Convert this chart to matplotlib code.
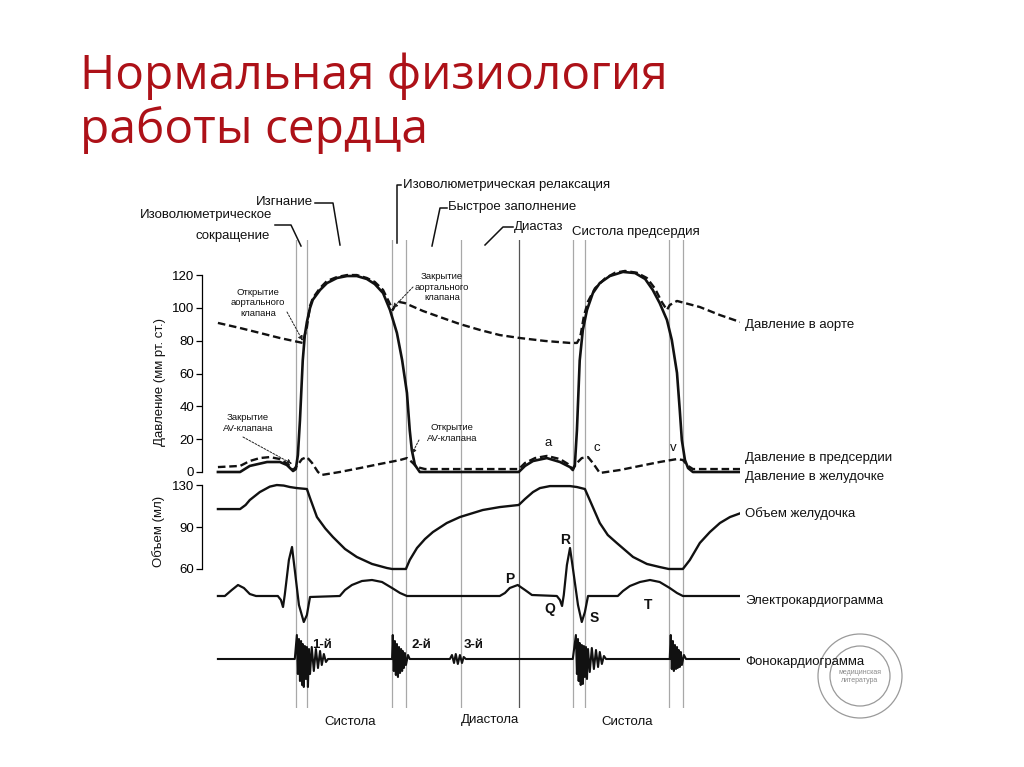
import numpy as np
import matplotlib.pyplot as plt
from matplotlib.lines import Line2D
from matplotlib.patches import Circle
from matplotlib.transforms import IdentityTransform

plt.rcParams['font.family'] = ['Liberation Sans', 'DejaVu Sans']

W, H = 1024, 767

# время, мс (один цикл = 800 мс)
event_t = [225, 257, 503, 543, 702, 869, 1025, 1060, 1302, 1343]

# давление в желудочке, мм рт. ст.
vent_t = [0, 64, 92, 142, 179, 199, 217, 225, 231, 237, 245, 251, 257, 266, 274, 295, 315, 344, 373, 401,
          430, 453, 477, 497, 517, 532, 546, 554, 560, 569, 583, 869, 887, 910, 950, 988, 1017, 1025, 1031, 1037,
          1045, 1054, 1066, 1083, 1103, 1132, 1170, 1205, 1234, 1256, 1276, 1297, 1311, 1326, 1334, 1340, 1349,
          1358, 1372, 1508]
vent_p = [0, 0, 3.7, 6.1, 6.1, 4.3, 0.6, 1.8, 10.4, 31.7, 68, 83.5, 91.5, 100, 105, 111, 115.2, 118.3, 119.5, 119.5,
          117.7, 114.6, 109.1, 98.8, 84.8, 68.3, 48.2, 25.6, 13.4, 4.3, 0, 0, 3.7, 6.7, 8.5, 6.1, 3, 1.2, 4.3, 25.6,
          68, 86.6, 98.8, 109.1, 115.2, 119.5, 122, 121.3, 117.7, 111, 103, 92.7, 80.5, 60.4, 37.8, 19.5, 7.3,
          2.4, 0, 0]

# давление в аорте
aorta_t = [0, 64, 121, 179, 245, 257, 266, 274, 295, 315, 344, 373, 401, 430, 453, 477, 494, 505, 511, 523,
           540, 592, 641, 699, 757, 814, 872, 945, 1017, 1037, 1042, 1048, 1057, 1069, 1089, 1118, 1147, 1176, 1210, 1239,
           1262, 1282, 1297, 1305, 1326, 1349, 1392, 1450, 1508]
aorta_p = [90.9, 87.8, 84.8, 81.7, 78.7, 88.4, 101.2, 106, 112.2, 116.5, 118.9, 120.1, 120.1, 118.3, 115.9, 111, 103.7, 98.8, 101.2, 103.7,
           103, 98.2, 94.5, 90.2, 86.6, 83.5, 81.7, 79.9, 78.7, 78.7, 80.5, 84, 95, 104, 112, 118, 121.5, 122.6, 121.5, 118.3,
           112, 103.7, 98.8, 101.8, 104.3, 103, 100.6, 95.7, 91.5]

# давление в предсердии
atrium_t = [0, 64, 92, 121, 150, 179, 202, 217, 228, 243, 257, 272, 289, 300, 352, 410, 468, 526, 546, 560,
            575, 598, 869, 887, 916, 950, 988, 1011, 1025, 1037, 1051, 1069, 1083, 1103, 1161, 1219, 1276, 1326, 1343, 1358,
            1372, 1508]
atrium_p = [3, 3.7, 6.7, 8.5, 9.1, 7.9, 4.9, 1.2, 3.7, 7.9, 9.1, 5.5, 0, -1.8, 0, 2.4, 4.9, 7.3, 8.5, 6.1,
            3, 1.8, 1.8, 5.5, 8.5, 9.8, 7.9, 4.9, 1.8, 5.5, 8.5, 9.1, 5.5, -0.6, 1.2, 3.7, 6.1, 7.9, 7.3, 3.7,
            1.8, 1.8]

# объем желудочка, мл
vol_t = [0, 64, 80, 92, 121, 150, 170, 190, 208, 228, 257, 266, 286, 310, 332, 367, 401, 445, 488, 503,
         543, 554, 575, 598, 621, 661, 699, 765, 814, 869, 887, 910, 930, 959, 1017, 1037, 1060, 1074, 1103, 1126,
         1152, 1199, 1239, 1276, 1302, 1343, 1363, 1392, 1421, 1450, 1479, 1508]
vol_ml = [107.1, 107.1, 111, 115.7, 123.3, 128.5, 130, 129.5, 128.1, 127.1, 126.2, 117.6, 99.5, 89, 82.9, 74.3, 68.6, 63.6, 60.7, 60,
          60, 66.4, 75, 81.4, 86.4, 93.8, 99.5, 106.2, 109, 111, 116.7, 123.3, 127.1, 129, 129, 128.1, 126.2, 115.7, 93.8, 84.3,
          78.6, 68.6, 63.6, 61.4, 60, 60, 66.4, 78.6, 86.4, 93.8, 99.5, 103]

# ЭКГ, мВ
ecg_t = [0, 20, 40, 58, 75, 92, 110, 173, 182, 188, 193, 205, 214, 222, 234, 248, 257, 266, 352, 367,
         387, 416, 445, 474, 503, 526, 546, 814, 829, 843, 866, 887, 907, 979, 988, 994, 999, 1008, 1017, 1028,
         1040, 1051, 1060, 1069, 1155, 1170, 1190, 1219, 1248, 1276, 1305, 1326, 1343, 1508]
ecg_mv = [0, 0, 0.15, 0.275, 0.2, 0.05, 0, 0, -0.1, -0.275, 0.025, 0.9, 1.225, 0.65, -0.225, -0.65, -0.475, -0.025, 0, 0.15,
          0.275, 0.375, 0.4, 0.35, 0.2, 0.075, 0, 0, 0.075, 0.2, 0.275, 0.15, 0.025, 0, -0.1, -0.25, 0.025, 0.775, 1.2, 0.525,
          -0.225, -0.65, -0.4, 0, 0, 0.125, 0.25, 0.35, 0.4, 0.35, 0.2, 0.075, 0, 0]

# фонокардиограмма (тоны 1, 2, 3, 1, 2)
phono_t = [0,
           222, 228, 231, 234, 237, 240, 243, 245, 248, 251, 254, 257, 260, 263, 266, 271, 277, 283, 289, 295, 300, 306, 312, 318,
           503, 505, 508, 511, 514, 517, 520, 523, 526, 529, 532, 534, 537, 540, 543, 549, 554,
           670, 676, 682, 687, 693, 699, 705, 710, 716,
           1025, 1034, 1037, 1040, 1042, 1045, 1048, 1051, 1054, 1057, 1060, 1063, 1066, 1069, 1074, 1080, 1086, 1092, 1098, 1103, 1109, 1115, 1121,
           1305, 1308, 1311, 1314, 1317, 1320, 1323, 1326, 1328, 1331, 1334, 1337, 1340, 1346, 1352,
           1508]
phono_a = [0,
           0, 2.4, -1.5, 2.0, -2.2, 1.8, -2.6, 1.5, -2.8, 1.3, -2.0, 1.2, -2.8, 1.0, -1.5, 1.2, -1.2, 1.0, -0.9, 0.8, -0.6, 0.5, -0.3, 0,
           0, 2.4, -1.2, 1.8, -1.6, 1.5, -1.8, 1.2, -1.4, 1.0, -1.2, 0.8, -0.9, 0.6, -0.6, 0.4, 0,
           0, 0.4, -0.4, 0.5, -0.5, 0.4, -0.4, 0.2, 0,
           0, 2.4, -1.5, 2.0, -2.2, 1.6, -2.6, 1.4, -2.5, 1.3, -1.8, 1.2, -2.0, 1.0, -1.3, 1.1, -1.0, 0.9, -0.8, 0.7, -0.5, 0.3, 0,
           0, 2.4, -1.0, 1.8, -1.2, 1.4, -1.0, 1.2, -0.9, 0.9, -0.8, 0.7, -0.6, 0.4, 0,
           0]

p_ticks = [0, 20, 40, 60, 80, 100, 120]
v_ticks = [60, 90, 130]

# шкала объема на рисунке неравномерная: 60, 90 и 130 стоят на равных расстояниях
v_scale_ml = [0, 60, 90, 130, 200]
v_scale_u = [-653, -569, -527, -485, -411.5]


def v_fwd(v):
    return np.interp(v, v_scale_ml, v_scale_u)


def v_inv(u):
    return np.interp(u, v_scale_u, v_scale_ml)


def box(x0, y0, x1, y1):
    return [x0 / W, 1 - y1 / H, (x1 - x0) / W, (y1 - y0) / H]


def fp(x, y):
    return x / W, 1 - y / H


def ftext(x, y, s, **kw):
    kw.setdefault('fontsize', 9.5)
    kw.setdefault('color', '#111111')
    fig.text(x / W, 1 - y / H, s, **kw)


def fline(xs, ys, **kw):
    fig.add_artist(Line2D([x / W for x in xs], [1 - y / H for y in ys],
                          color=kw.get('color', '#111111'), lw=kw.get('lw', 1.1)))


T0, T1 = -46, 1508
DASH = (0, (3.2, 1.6))

fig = plt.figure(figsize=(W / 100, H / 100), dpi=100)
fig.patch.set_facecolor('white')

# заголовок
ftext(80, 89, 'Нормальная физиология', fontsize=34.5, color='#ad1118', family=['Open Sans'], va='baseline')
ftext(80, 143, 'работы сердца', fontsize=34.5, color='#ad1118', family=['Open Sans'], va='baseline')

# вертикальные линии фаз
ax_v = fig.add_axes(box(202, 240, 740, 708))
ax_v.set_xlim(T0, T1)
ax_v.set_ylim(0, 1)
ax_v.axis('off')
for t in event_t:
    ax_v.axvline(t, color='#555555' if t == 869 else '#a8a8a8', lw=0.9)

# давление
ax_p = fig.add_axes(box(202, 267, 740, 480.2))
ax_p.patch.set_alpha(0)
ax_p.plot(aorta_t, aorta_p, color='#111111', lw=1.7, ls=DASH)
ax_p.plot(vent_t, vent_p, color='#111111', lw=1.9)
ax_p.plot(atrium_t, atrium_p, color='#111111', lw=1.7, ls=DASH)
ax_p.set_xlim(T0, T1)
ax_p.set_ylim(-5, 125)
for s in ['top', 'right', 'bottom']:
    ax_p.spines[s].set_visible(False)
ax_p.spines['left'].set_bounds(0, 120)
ax_p.spines['left'].set_linewidth(0.9)
ax_p.set_xticks([])
ax_p.set_yticks(p_ticks)
ax_p.tick_params(axis='y', length=4, width=0.9, pad=1.5, labelsize=9.5)

# объем
ax_vol = fig.add_axes(box(202, 480, 740, 575))
ax_vol.patch.set_alpha(0)
ax_vol.set_yscale('function', functions=(v_fwd, v_inv))
ax_vol.plot(vol_t, vol_ml, color='#111111', lw=1.7)
ax_vol.set_xlim(T0, T1)
ax_vol.set_ylim(55.7, 134.8)
for s in ['top', 'right', 'bottom']:
    ax_vol.spines[s].set_visible(False)
ax_vol.spines['left'].set_bounds(60, 130)
ax_vol.spines['left'].set_linewidth(0.9)
ax_vol.set_xticks([])
ax_vol.set_yticks(v_ticks)
ax_vol.set_yticks([], minor=True)
ax_vol.tick_params(axis='y', length=4, width=0.9, pad=1.5, labelsize=9.5)

# ЭКГ
ax_e = fig.add_axes(box(202, 530, 740, 630))
ax_e.patch.set_alpha(0)
ax_e.plot(ecg_t, ecg_mv, color='#111111', lw=1.6)
ax_e.set_xlim(T0, T1)
ax_e.set_ylim(-0.85, 1.65)
ax_e.axis('off')
for lab, t, v in [('P', 843, 0.42), ('R', 1002, 1.4), ('Q', 959, -0.32), ('S', 1086, -0.55), ('T', 1242, -0.22)]:
    ax_e.text(t, v, lab, ha='center', va='center', fontsize=10, fontweight='bold', color='#111111')

# ФКГ
ax_f = fig.add_axes(box(202, 625, 740, 695))
ax_f.patch.set_alpha(0)
ax_f.plot(phono_t, phono_a, color='#111111', lw=1.5)
ax_f.set_xlim(T0, T1)
ax_f.set_ylim(-3.6, 3.4)
ax_f.axis('off')
for lab, t in [('1-й', 300), ('2-й', 588), ('3-й', 738)]:
    ax_f.text(t, 1.4, lab, ha='center', va='center', fontsize=9.5, fontweight='bold', color='#111111')

# подписи осей
ftext(160, 382, 'Давление (мм рт. ст.)', rotation=90, ha='center', va='center')
ftext(159, 531, 'Объем (мл)', rotation=90, ha='center', va='center')

# подписи справа
for s, y in [('Давление в аорте', 325), ('Давление в предсердии', 458), ('Давление в желудочке', 477),
             ('Объем желудочка', 514), ('Электрокардиограмма', 601), ('Фонокардиограмма', 662)]:
    ftext(745, y, s, va='center')

# фазы сверху
ftext(272, 215, 'Изоволюметрическое', ha='right', va='center')
ftext(270, 236, 'сокращение', ha='right', va='center')
fline([275, 291, 301], [225, 225, 246])
ftext(313, 202, 'Изгнание', ha='right', va='center')
fline([315, 333, 340], [203, 203, 245])
ftext(403, 185, 'Изоволюметрическая релаксация', ha='left', va='center')
fline([401, 397, 397], [185, 185, 243])
ftext(448, 207, 'Быстрое заполнение', ha='left', va='center')
fline([447, 440, 432], [208, 208, 246])
ftext(514, 227, 'Диастаз', ha='left', va='center')
fline([513, 503, 485], [227, 227, 245])
ftext(572, 232, 'Систола предсердия', ha='left', va='center')

# клапаны
small = dict(fontsize=6.8, ha='center', va='center', linespacing=1.15)
ftext(258, 303, 'Открытие\nаортального\nклапана', **small)
ftext(442, 287, 'Закрытие\nаортального\nклапана', **small)
ftext(248, 423, 'Закрытие\nAV-клапана', **small)
ftext(452, 433, 'Открытие\nAV-клапана', **small)
arrow = dict(arrowstyle='-|>', lw=0.7, ls=(0, (2, 1.5)), color='#222222', mutation_scale=7, shrinkA=0, shrinkB=0)
ax_p.annotate('', xy=(245, 80), xytext=fp(287, 312), textcoords='figure fraction', arrowprops=arrow)
ax_p.annotate('', xy=(505, 100), xytext=fp(413, 287), textcoords='figure fraction', arrowprops=arrow)
ax_p.annotate('', xy=(214, 5), xytext=fp(243, 437), textcoords='figure fraction', arrowprops=arrow)
ax_p.annotate('', xy=(560, 11), xytext=fp(419, 440), textcoords='figure fraction', arrowprops=arrow)

for lab, t, p in [('a', 953, 17.7), ('c', 1095, 14.6), ('v', 1314, 14.6)]:
    ax_p.text(t, p, lab, ha='center', va='center', fontsize=9.5, color='#111111')

# фазы снизу
ftext(350, 722, 'Систола', ha='center', va='center')
ftext(490, 720, 'Диастола', ha='center', va='center')
ftext(627, 722, 'Систола', ha='center', va='center')

# штамп
for r in [42, 30]:
    fig.add_artist(Circle((860, H - 676), r, transform=IdentityTransform(), fill=False, ec='#9a9a9a', lw=0.9))
ftext(860, 676, 'медицинская\nлитература', fontsize=5, color='#8a8a8a', ha='center', va='center')

fig.savefig('out.png', dpi=100)
